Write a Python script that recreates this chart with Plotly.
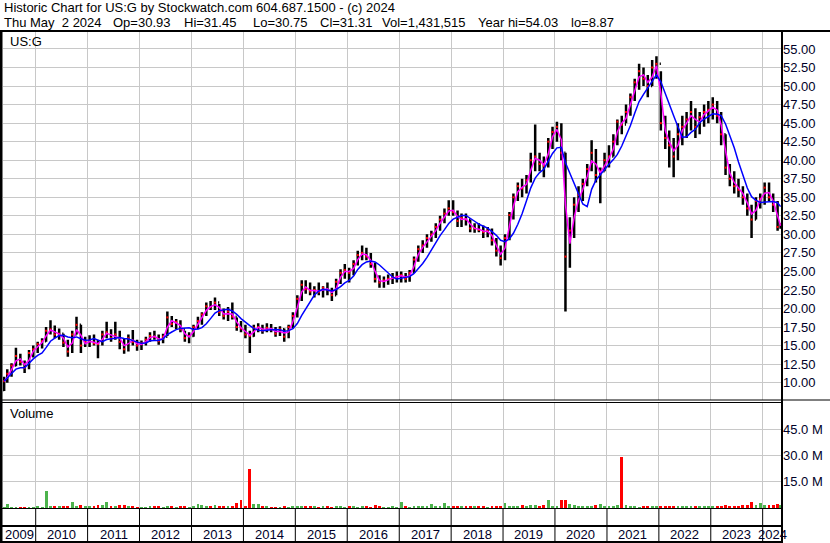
import numpy as np
import pandas as pd
import plotly.graph_objects as go

# ---------------- data (monthly) ----------------
high = [
    10.8, 11.8, 12.6, 14.7, 13.9, 13.0, 14.4, 15.0,                              # 2009 May-Dec
    15.5, 16.0, 17.5, 18.4, 17.7, 17.3, 16.6, 15.8, 17.0, 18.9, 17.8, 16.2,      # 2010
    16.4, 16.5, 15.8, 17.0, 18.2, 17.2, 18.2, 17.0, 16.0, 16.5, 17.1, 15.8,      # 2011
    15.7, 16.2, 16.8, 17.0, 16.5, 16.6, 19.6, 19.0, 18.6, 18.4, 17.0, 16.8,      # 2012
    17.8, 18.9, 19.5, 20.8, 21.0, 21.5, 20.6, 20.0, 20.2, 20.8, 18.8, 18.3,      # 2013
    17.8, 17.0, 17.8, 18.0, 17.8, 18.0, 17.9, 17.5, 17.6, 17.3, 17.8, 19.5,      # 2014
    21.8, 23.8, 23.8, 23.5, 23.0, 23.5, 23.0, 23.5, 22.8, 24.0, 25.3, 26.0,      # 2015
    25.5, 26.5, 27.8, 28.5, 28.2, 27.5, 26.2, 24.5, 24.3, 24.6, 24.8, 25.0,      # 2016
    25.0, 24.8, 25.2, 27.0, 28.5, 29.2, 30.0, 30.5, 31.5, 32.5, 33.5, 34.6,      # 2017
    34.6, 33.2, 32.8, 32.8, 32.0, 31.5, 31.5, 31.2, 31.0, 30.8, 29.5, 28.5,      # 2018
    30.0, 33.0, 35.5, 37.0, 37.5, 38.0, 41.0, 44.8, 41.0, 40.5, 43.0, 44.5,      # 2019
    45.2, 45.0, 41.0, 32.3, 35.0, 36.5, 37.5, 39.5, 42.7, 41.5, 39.0, 41.0,      # 2020
    42.0, 43.5, 45.5, 46.0, 47.5, 49.0, 51.0, 53.0, 52.5, 51.5, 53.5, 54.03,     # 2021
    52.0, 46.0, 44.0, 43.0, 45.0, 46.0, 46.5, 48.0, 47.0, 46.5, 47.5, 48.0,      # 2022
    48.5, 48.0, 46.5, 43.5, 39.5, 38.5, 37.5, 36.5, 35.5, 34.0, 35.0, 35.5,      # 2023
    37.0, 37.0, 35.5, 34.5, 31.45,                                               # 2024 Jan-May
]
low = [
    8.87, 10.0, 10.8, 12.2, 12.3, 11.3, 11.8, 13.4,
    14.0, 14.6, 15.5, 16.5, 16.0, 15.8, 14.8, 13.5, 14.0, 16.5, 14.0, 14.8,
    14.8, 15.0, 13.3, 15.0, 16.0, 15.5, 15.8, 14.5, 13.9, 14.2, 15.0, 14.3,
    14.4, 15.0, 15.5, 15.8, 15.1, 15.3, 16.3, 17.5, 17.2, 16.8, 15.5, 15.3,
    16.2, 17.2, 17.8, 19.0, 19.8, 19.8, 19.0, 18.5, 18.3, 18.5, 17.0, 16.8,
    16.0, 14.0, 16.2, 16.8, 16.6, 16.8, 16.8, 16.2, 16.3, 15.5, 16.0, 17.3,
    18.8, 21.0, 22.0, 21.8, 21.5, 21.8, 21.5, 21.8, 21.0, 21.8, 23.3, 24.0,
    23.5, 24.5, 25.8, 26.5, 26.5, 25.5, 23.5, 22.8, 22.8, 23.2, 23.3, 23.5,
    23.5, 23.5, 23.6, 24.8, 26.3, 27.5, 28.2, 29.0, 29.5, 30.5, 31.5, 32.5,
    32.5, 31.0, 31.0, 31.2, 30.3, 30.2, 30.3, 29.5, 29.6, 28.5, 27.0, 25.8,
    26.5, 29.2, 32.0, 34.5, 35.0, 35.5, 37.0, 38.5, 38.5, 37.7, 39.0, 41.5,
    42.5, 40.0, 19.6, 25.5, 29.5, 33.0, 34.5, 36.5, 38.5, 37.0, 34.2, 38.5,
    39.0, 40.5, 42.0, 43.5, 45.0, 46.0, 48.0, 49.5, 50.0, 48.5, 50.0, 51.0,
    44.0, 41.5, 39.0, 37.7, 40.0, 42.0, 43.0, 44.0, 43.0, 43.5, 44.5, 45.0,
    45.5, 45.0, 42.0, 38.0, 36.5, 35.5, 35.0, 34.0, 32.5, 29.5, 32.0, 33.5,
    34.0, 34.5, 33.0, 30.5, 30.75,
]
close = [
    10.2, 11.2, 12.3, 13.6, 12.8, 12.0, 14.0, 14.5,
    15.2, 15.6, 17.0, 17.2, 16.5, 16.6, 15.4, 14.2, 16.5, 17.8, 15.0, 15.5,
    15.6, 15.3, 15.2, 16.5, 16.8, 16.0, 16.5, 15.5, 14.5, 16.0, 15.5, 15.0,
    15.3, 15.8, 16.3, 16.2, 15.6, 16.2, 18.8, 17.9, 18.2, 17.2, 16.0, 16.3,
    17.5, 18.3, 19.2, 20.3, 20.2, 20.8, 19.5, 19.0, 19.6, 18.9, 17.5, 17.3,
    16.5, 16.3, 17.4, 17.5, 17.0, 17.4, 17.2, 16.6, 17.2, 16.2, 17.5, 19.0,
    21.3, 23.2, 22.6, 22.3, 22.5, 22.2, 22.8, 22.5, 21.8, 23.6, 24.8, 25.2,
    24.8, 26.0, 27.2, 27.5, 27.0, 26.0, 24.0, 23.5, 23.8, 24.0, 24.2, 24.3,
    24.5, 24.0, 24.8, 26.6, 28.0, 28.5, 29.5, 30.0, 31.0, 32.0, 32.8, 33.5,
    33.0, 31.8, 32.2, 32.0, 30.8, 30.8, 30.6, 30.3, 30.5, 29.2, 27.8, 26.8,
    29.5, 32.6, 35.0, 36.5, 36.2, 37.3, 40.0, 40.5, 39.5, 39.2, 42.5, 43.8,
    44.5, 41.0, 27.0, 30.5, 34.0, 35.3, 36.8, 38.8, 41.0, 38.0, 38.5, 40.0,
    40.5, 42.5, 45.2, 44.8, 46.5, 48.5, 50.5, 52.0, 51.0, 50.0, 52.5, 53.0,
    45.0, 43.0, 42.0, 40.5, 43.5, 44.5, 45.5, 46.5, 44.5, 45.8, 46.5, 46.8,
    47.5, 46.0, 43.5, 39.0, 37.5, 36.5, 36.0, 35.0, 33.5, 32.0, 34.5, 34.8,
    36.3, 35.0, 34.0, 31.0, 31.31,
]
volume_m = [
    1.0, 2.4, 1.0, 1.0, 0.8, 1.0, 0.8, 1.0,
    1.2, 1.0, 9.8, 1.5, 1.5, 1.2, 1.2, 1.5, 4.0, 1.5, 1.8, 1.2,
    1.5, 1.5, 2.0, 1.8, 3.7, 1.5, 1.5, 2.0, 1.8, 1.5, 1.2, 1.0,
    1.0, 1.0, 1.2, 1.2, 1.5, 1.0, 1.5, 1.2, 1.0, 1.2, 1.5, 1.0,
    1.2, 2.4, 2.0, 1.5, 1.2, 2.0, 1.5, 1.2, 1.5, 1.5, 3.0, 5.0,
    1.5, 22.5, 2.5, 2.5, 1.5, 1.2, 1.0, 1.0, 1.0, 1.2, 1.0, 1.2,
    1.5, 1.5, 1.2, 1.2, 1.5, 1.0, 1.5, 1.2, 1.0, 1.2, 1.5, 1.0,
    1.5, 1.2, 1.0, 1.2, 1.5, 1.0, 2.0, 1.2, 1.0, 1.0, 1.2, 1.0,
    3.6, 1.2, 1.0, 1.2, 1.5, 1.2, 1.2, 2.4, 1.2, 1.5, 3.3, 1.2,
    1.5, 1.5, 1.2, 1.2, 1.5, 1.5, 1.2, 1.2, 1.0, 1.5, 1.5, 1.5,
    3.3, 1.5, 1.2, 1.5, 2.0, 1.5, 2.0, 2.0, 1.5, 1.8, 4.7, 1.5,
    1.5, 5.0, 5.0, 2.5, 2.0, 1.5, 1.5, 1.5, 1.5, 2.0, 2.5, 1.5,
    1.5, 1.5, 2.0, 29.5, 2.0, 1.2, 1.2, 1.0, 1.2, 1.2, 1.2, 1.5,
    1.5, 1.5, 1.2, 1.5, 1.5, 1.2, 1.5, 1.2, 1.2, 1.5, 1.2, 1.2,
    1.5, 1.5, 1.5, 2.0, 1.5, 1.5, 1.5, 2.0, 2.0, 3.6, 2.0, 3.0,
    2.0, 2.0, 2.0, 2.5, 2.0,
]
first_open = 9.0
price_ticks = [10.0 + 2.5 * i for i in range(19)]
volume_ticks_m = [15, 30, 45]
year_labels = list(range(2009, 2025))

# months (one bar per month, mid-month; partial first and last months)
dates = list(pd.date_range("2009-05-01", "2024-05-01", freq="MS") + pd.Timedelta(days=14))
dates[0] = pd.Timestamp("2009-05-24")
dates[-1] = pd.Timestamp("2024-05-06")

close_s = pd.Series(close)
open_ = [first_open] + close[:-1]
ma_short = close_s.rolling(2, min_periods=1).mean()
ma_long = close_s.rolling(6, min_periods=1).mean()
volume = [v * 1e6 for v in volume_m]
vol_colors = ["#ff0000" if c < o else "#4cb34c" for c, o in zip(close, open_)]

# ---------------- layout geometry ----------------
W, H = 830, 543
L, R, T, B = 3, 48, 32, 35
pw, ph = W - L - R, H - T - B
def px(x):
    return (x - L) / pw
def py(y):
    return (H - B - y) / ph

x_range = ["2009-05-16", "2024-05-16"]
FONT = "Liberation Sans, Arial, sans-serif"
TXT = "#000028"

fig = go.Figure()
fig.add_trace(go.Ohlc(
    x=dates, open=open_, high=high, low=low, close=close,
    increasing=dict(line=dict(color="black", width=2.5)),
    decreasing=dict(line=dict(color="black", width=2.5)),
    tickwidth=0.4, xaxis="x", yaxis="y", hoverinfo="skip", showlegend=False))
fig.add_trace(go.Scatter(
    x=dates, y=close, mode="markers", xaxis="x", yaxis="y",
    marker=dict(symbol="square", size=2, color="#ff0000", line=dict(width=0)),
    hoverinfo="skip", showlegend=False))
fig.add_trace(go.Scatter(
    x=dates, y=ma_short, mode="lines", xaxis="x", yaxis="y",
    line=dict(color="#ff00ff", width=1.5), hoverinfo="skip", showlegend=False))
fig.add_trace(go.Scatter(
    x=dates, y=ma_long, mode="lines", xaxis="x", yaxis="y",
    line=dict(color="#0000ff", width=1.5), hoverinfo="skip", showlegend=False))
fig.add_trace(go.Bar(
    x=dates, y=volume, xaxis="x", yaxis="y2", width=20 * 86400 * 1000,
    marker=dict(color=vol_colors, line=dict(width=0)),
    hoverinfo="skip", showlegend=False))

year_bounds = [f"{y}-01-01" for y in range(2010, 2025)]

shapes = []
def hline(y, x0, x1, w=1):
    shapes.append(dict(type="line", xref="paper", yref="paper",
                       x0=px(x0), x1=px(x1), y0=py(y), y1=py(y),
                       line=dict(color="black", width=w)))
def vline(x, y0, y1, w=1):
    shapes.append(dict(type="line", xref="paper", yref="paper",
                       x0=px(x), x1=px(x), y0=py(y0), y1=py(y1),
                       line=dict(color="black", width=w)))

hline(31, 0, W, 2)
vline(1, 31, H, 3)
vline(782, 31, H, 2)
hline(400, 0, W, 1)
hline(402.5, 0, 782, 1)
hline(508.5, 0, 782, 1)
hline(526, 0, 782, 2)
hline(542, 0, 782, 2)
for d in year_bounds:
    shapes.append(dict(type="line", xref="x", yref="paper", x0=d, x1=d,
                       y0=py(508.5), y1=py(542), line=dict(color="black", width=1)))

annotations = []
def text(x, y, s, anchor="left"):
    annotations.append(dict(xref="paper", yref="paper", x=px(x), y=py(y), text=s,
                            showarrow=False, xanchor=anchor, yanchor="middle",
                            font=dict(family=FONT, size=13, color="black")))

text(2, 8, "Historic Chart for US:G by Stockwatch.com 604.687.1500 - (c) 2024")
for xx, s in [(2, "Thu May \u00a02 2024"), (111, "Op=30.93"), (182, "Hi=31.45"),
              (251, "Lo=30.75"), (318, "Cl=31.31"), (380, "Vol=1,431,515"),
              (476, "Year hi=54.03"), (569, "lo=8.87")]:
    text(xx, 22, s)
text(8, 41, "US:G")
text(8, 413, "Volume")

# year labels centred in each year's slot
t0, t1 = pd.Timestamp(x_range[0]), pd.Timestamp(x_range[1])
for yr in year_labels:
    a = max(pd.Timestamp(f"{yr}-01-01"), t0)
    b = min(pd.Timestamp(f"{yr + 1}-01-01"), t1)
    annotations.append(dict(xref="x", yref="paper", x=a + (b - a) / 2, y=py(534.5),
                            text=str(yr), showarrow=False, xanchor="center",
                            yanchor="middle",
                            font=dict(family=FONT, size=13, color=TXT)))

fig.update_layout(
    width=W, height=H, margin=dict(l=L, r=R, t=T, b=B, pad=0),
    paper_bgcolor="white", plot_bgcolor="white",
    font=dict(family=FONT, size=13, color=TXT),
    showlegend=False, bargap=0,
    xaxis=dict(type="date", range=x_range, anchor="y2", tickvals=year_bounds,
               showticklabels=False, ticks="", showgrid=True, gridcolor="#c8c8c8",
               gridwidth=1, zeroline=False, showline=False,
               rangeslider=dict(visible=False)),
    yaxis=dict(domain=[py(400), 1], range=[7.66, 57.29], side="right",
               tickvals=price_ticks, ticktext=[f"{v:.2f}" for v in price_ticks],
               ticks="", showgrid=True, gridcolor="#c8c8c8", gridwidth=1,
               zeroline=False, showline=False,
               tickfont=dict(family=FONT, size=13, color=TXT)),
    yaxis2=dict(domain=[0, py(402.5)], range=[0, 60.5e6], side="right",
                tickvals=[v * 1e6 for v in volume_ticks_m],
                ticktext=[f"{v:.1f} M" for v in volume_ticks_m],
                ticks="", showgrid=True, gridcolor="#c8c8c8", gridwidth=1,
                zeroline=False, showline=False,
                tickfont=dict(family=FONT, size=13, color=TXT)),
    shapes=shapes, annotations=annotations,
)

fig.write_html("out.html", config={"displayModeBar": False},
               post_script="document.body.style.margin='0px';")
